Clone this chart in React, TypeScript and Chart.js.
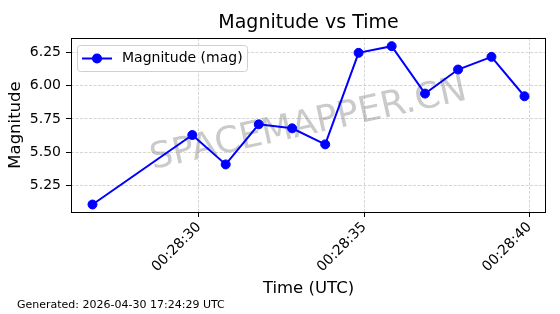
import { useEffect, useRef } from 'react';
import { Chart, registerables } from 'chart.js';

Chart.register(...registerables);

// Seconds after 00:28:00 UTC
const timeSeconds = [26.78, 29.8, 30.81, 31.81, 32.82, 33.82, 34.83, 35.83, 36.84, 37.84, 38.85, 39.85];
const magnitudes = [5.11, 5.63, 5.41, 5.71, 5.68, 5.56, 6.245, 6.295, 5.94, 6.12, 6.215, 5.92];
const timePrefix = '00:28:';
const xTickValues = [30, 35, 40];
const yTickValues = [5.25, 5.5, 5.75, 6.0, 6.25];
const xRange = [26.13, 40.5];
const yRange = [5.054, 6.356];
const titleText = 'Magnitude vs Time';
const xTitle = 'Time (UTC)';
const yTitle = 'Magnitude';
const seriesLabel = 'Magnitude (mag)';
const footerText = 'Generated: 2026-04-30 17:24:29 UTC';
const watermarkText = 'SPACEMAPPER.CN';

const FONT = '"DejaVu Sans", sans-serif';
const BLUE = '#0000ff';

const decorPlugin = {
  id: 'decor',
  beforeDatasetsDraw(chart: any) {
    const { ctx, chartArea } = chart;
    const cx = (chartArea.left + chartArea.right) / 2;
    const cy = (chartArea.top + chartArea.bottom) / 2;
    ctx.save();
    ctx.translate(cx, cy);
    ctx.rotate((-12.5 * Math.PI) / 180);
    ctx.font = `36px ${FONT}`;
    ctx.fillStyle = 'rgba(128,128,128,0.42)';
    ctx.textAlign = 'center';
    ctx.textBaseline = 'middle';
    ctx.fillText(watermarkText, 0, 0);
    ctx.restore();
  },
  afterDatasetsDraw(chart: any) {
    const { ctx, chartArea, width, height } = chart;
    const cx = (chartArea.left + chartArea.right) / 2;
    const cy = (chartArea.top + chartArea.bottom) / 2;
    ctx.save();
    // frame
    ctx.strokeStyle = '#000';
    ctx.lineWidth = 1;
    ctx.strokeRect(
      Math.round(chartArea.left) + 0.5,
      Math.round(chartArea.top) + 0.5,
      Math.round(chartArea.right - chartArea.left) - 1,
      Math.round(chartArea.bottom - chartArea.top)
    );
    // title
    ctx.fillStyle = '#000';
    ctx.textAlign = 'center';
    ctx.textBaseline = 'middle';
    ctx.font = `19px ${FONT}`;
    ctx.fillText(titleText, cx, 23);
    // x title
    ctx.font = `16.5px ${FONT}`;
    ctx.fillText(xTitle, cx, 289);
    // y title
    ctx.save();
    ctx.translate(16, cy);
    ctx.rotate(-Math.PI / 2);
    ctx.fillText(yTitle, 0, 0);
    ctx.restore();
    // footer
    ctx.textAlign = 'left';
    ctx.font = `11px ${FONT}`;
    ctx.fillText(footerText, 17, 305);
    // legend
    const lx = chartArea.left + 6;
    const ly = chartArea.top + 7;
    const lw = 170;
    const lh = 26;
    ctx.beginPath();
    (ctx as any).roundRect(lx + 0.5, ly + 0.5, lw, lh, 3);
    ctx.fillStyle = 'rgba(255,255,255,0.8)';
    ctx.fill();
    ctx.strokeStyle = '#d0d0d0';
    ctx.lineWidth = 1;
    ctx.stroke();
    const my = ly + lh / 2 + 0.5;
    ctx.strokeStyle = BLUE;
    ctx.lineWidth = 2;
    ctx.beginPath();
    ctx.moveTo(lx + 5, my);
    ctx.lineTo(lx + 35, my);
    ctx.stroke();
    ctx.fillStyle = BLUE;
    ctx.beginPath();
    ctx.arc(lx + 20, my, 5, 0, Math.PI * 2);
    ctx.fill();
    ctx.fillStyle = '#000';
    ctx.font = `14px ${FONT}`;
    ctx.textBaseline = 'middle';
    ctx.fillText(chart.data.datasets[0].label, lx + 45, my);
    ctx.restore();
    void width; void height;
  },
};

export default function App() {
  const ref = useRef<HTMLCanvasElement | null>(null);
  useEffect(() => {
    document.body.style.margin = '0';
    const canvas = ref.current;
    if (!canvas) return;
    const gridCommon = {
      color: 'rgba(176,176,176,0.65)',
      lineWidth: 0.8,
      tickColor: '#000',
      tickWidth: 1,
      tickLength: 5,
      tickBorderDash: [],
    };
    const chart = new Chart(canvas, {
      type: 'line',
      data: {
        datasets: [
          {
            label: seriesLabel,
            data: timeSeconds.map((t, i) => ({ x: t, y: magnitudes[i] })),
            borderColor: BLUE,
            backgroundColor: BLUE,
            borderWidth: 2,
            pointRadius: 4.5,
            pointBorderWidth: 1,
            pointBackgroundColor: BLUE,
            pointBorderColor: BLUE,
            tension: 0,
            clip: false as any,
          },
        ],
      },
      options: {
        animation: false,
        responsive: false,
        devicePixelRatio: 1,
        layout: { padding: { top: 38, right: 14, left: 0, bottom: 0 } },
        plugins: {
          legend: { display: false },
          title: { display: false },
          tooltip: { enabled: false },
        },
        scales: {
          x: {
            type: 'linear',
            min: xRange[0],
            max: xRange[1],
            afterBuildTicks: (s: any) => {
              s.ticks = xTickValues.map((v) => ({ value: v }));
            },
            afterFit: (s: any) => {
              s.height = 102;
            },
            ticks: {
              autoSkip: false,
              maxRotation: 45,
              minRotation: 45,
              padding: 2,
              color: '#000',
              font: { family: FONT, size: 14 },
              callback: (v: any) => timePrefix + String(Math.round(Number(v))).padStart(2, '0'),
            },
            grid: gridCommon as any,
            border: { display: false, dash: [3, 1.5] },
          },
          y: {
            type: 'linear',
            min: yRange[0],
            max: yRange[1],
            afterBuildTicks: (s: any) => {
              s.ticks = yTickValues.map((v) => ({ value: v }));
            },
            afterFit: (s: any) => {
              s.width = 71;
            },
            ticks: {
              padding: 5,
              color: '#000',
              font: { family: FONT, size: 14 },
              callback: (v: any) => Number(v).toFixed(2),
            },
            grid: gridCommon as any,
            border: { display: false, dash: [3, 1.5] },
          },
        },
      },
      plugins: [decorPlugin],
    });
    return () => chart.destroy();
  }, []);
  return <canvas ref={ref} width={560} height={314} style={{ display: 'block' }} />;
}
